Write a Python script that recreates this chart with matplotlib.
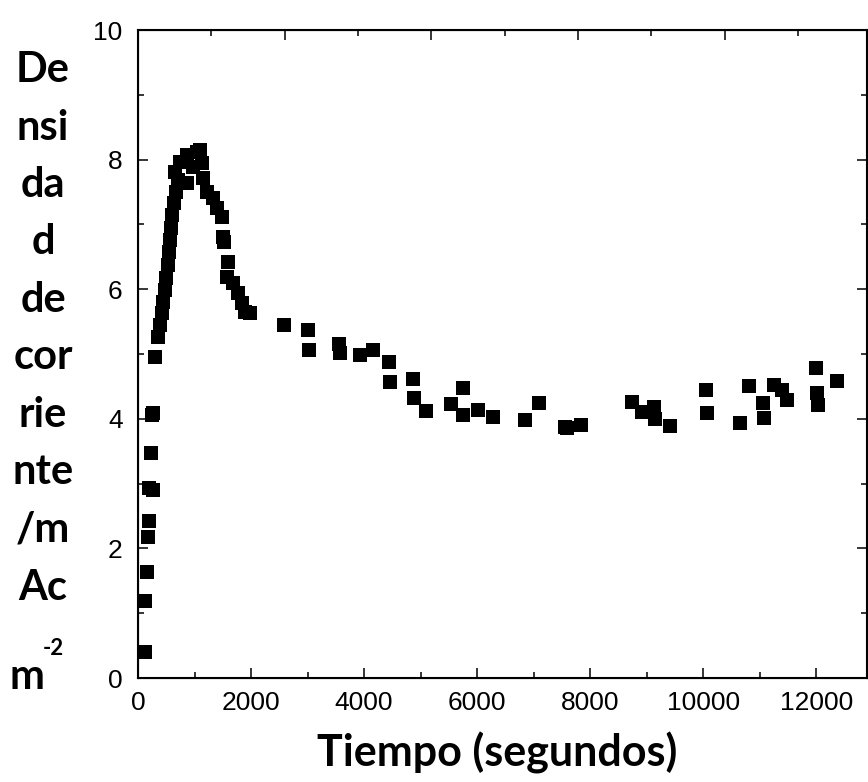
import matplotlib
matplotlib.use("Agg")
import matplotlib.pyplot as plt
from matplotlib.ticker import MultipleLocator

# datos: tiempo (s) y densidad de corriente
tiempo = [124, 124, 159, 177, 195, 195, 265, 230, 248, 265, 301, 354,
          389, 425, 442, 478, 496, 531, 549, 566, 584, 602, 637, 673,
          655, 743, 867, 1044, 1097, 708, 867, 973, 1133, 1150, 1221,
          1327, 1398, 1487, 1504, 1522, 1593, 1575, 1681, 1770, 1841,
          1894, 1982,
          2584, 3009, 3027, 3558, 3575, 3929, 4159, 4442, 4460, 4867,
          4885, 5097, 5540, 5752, 5752, 6018, 6283, 6850, 7097, 7558,
          7593, 7841, 8743, 8920, 9133, 9150, 9416, 10053, 10071, 10655,
          10814, 11062, 11080, 11257, 11398, 11487, 12000, 12018, 12035,
          12372]
densidad = [0.40, 1.19, 1.64, 2.18, 2.42, 2.93, 2.90, 3.47, 4.06, 4.09, 4.95, 5.26,
            5.45, 5.63, 5.80, 5.99, 6.17, 6.37, 6.57, 6.76, 6.94, 7.14, 7.33, 7.50,
            7.81, 7.96, 8.07, 8.12, 8.15, 7.69, 7.64, 7.89, 7.95, 7.72, 7.50,
            7.41, 7.25, 7.11, 6.81, 6.73, 6.42, 6.19, 6.10, 5.94, 5.79,
            5.65, 5.63,
            5.44, 5.37, 5.06, 5.15, 5.01, 4.98, 5.06, 4.88, 4.57, 4.61,
            4.32, 4.12, 4.23, 4.47, 4.06, 4.14, 4.03, 3.98, 4.24, 3.88,
            3.86, 3.90, 4.26, 4.10, 4.18, 4.00, 3.89, 4.44, 4.09, 3.94,
            4.51, 4.24, 4.01, 4.52, 4.44, 4.29, 4.78, 4.40, 4.21,
            4.58]

ylabel_lineas = ["De", "nsi", "da", "d", "de", "cor", "rie", "nte", "/m", "Ac"]

W, H = 868, 782
fig = plt.figure(figsize=(W / 100, H / 100), dpi=100)
ax = fig.add_axes([138 / W, 1 - 678 / H, (867 - 138) / W, (678 - 30) / H])

ax.plot(tiempo, densidad, 's', color='black', markersize=10, markeredgewidth=0)
ax.set_xlim(0, 12900)
ax.set_ylim(0, 10)
ax.xaxis.set_major_locator(MultipleLocator(2000))
ax.xaxis.set_minor_locator(MultipleLocator(1000))
ax.yaxis.set_major_locator(MultipleLocator(2))
ax.yaxis.set_minor_locator(MultipleLocator(1))
ax.tick_params(which='both', direction='in', right=True, width=1.1)
ax.tick_params(which='major', length=7, pad=9, labelsize=19)
ax.tick_params(which='minor', length=4)
ax.tick_params(axis='y', pad=11)
for lab in ax.get_xticklabels() + ax.get_yticklabels():
    lab.set_family('Liberation Sans')
for s in ax.spines.values():
    s.set_linewidth(1.5)

# eje superior con otra escala (solo marcas)
ax2 = ax.twiny()
ax2.set_xlim(0, 729 / 146.7)
ax2.xaxis.set_major_locator(MultipleLocator(1))
ax2.xaxis.set_minor_locator(MultipleLocator(0.5))
ax2.tick_params(which='both', direction='in', labeltop=False, width=1.1)
ax2.tick_params(which='major', length=7)
ax2.tick_params(which='minor', length=4)

fig.text(497 / W, 1 - 767 / H, "Tiempo (segundos)", ha='center', va='baseline',
         fontsize=31, fontweight='bold', family='Lato')

# etiqueta del eje y partida en trozos como en el original
for i, t in enumerate(ylabel_lineas):
    fig.text(43 / W, 1 - (82 + 57.5 * i) / H, t, ha='center', va='baseline',
             fontsize=30, fontweight='bold', family='Lato')
fig.text(45 / W, 1 - 689 / H, "m", ha='right', va='baseline',
         fontsize=30, fontweight='bold', family='Lato')
fig.text(43 / W, 1 - 655 / H, "-2", ha='left', va='baseline',
         fontsize=16, fontweight='bold', family='Lato')

fig.savefig("out.png", dpi=100)
